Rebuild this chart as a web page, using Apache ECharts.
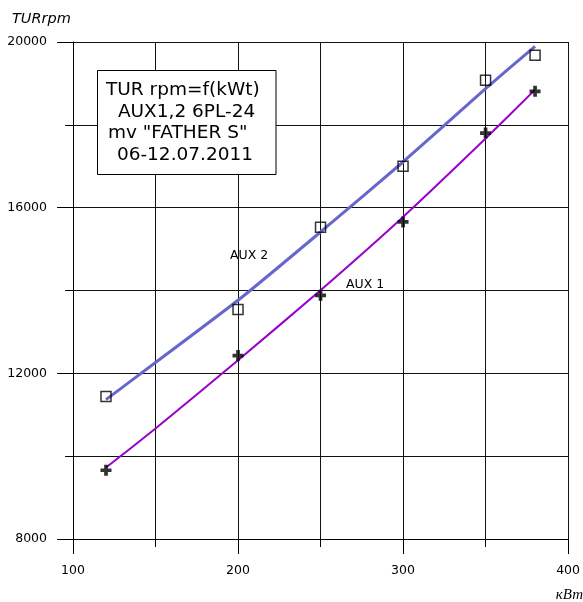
<!DOCTYPE html>
<html>
<head>
<meta charset="utf-8">
<script src="https://cdn.jsdelivr.net/npm/echarts@6/dist/echarts.min.js"></script>
<style>html,body{margin:0;padding:0;background:#fff;}#c{width:583px;height:602px;}</style>
</head>
<body>
<div id="c"></div>
<script>
// Measured points
var xValues = [120, 200, 250, 300, 350, 380];
var aux1Values = [9660, 12430, 13885, 15655, 17800, 18810];
var aux2Values = [11440, 13540, 15530, 17000, 19075, 19680];
// Trend lines
var fitX = [120, 150, 200, 250, 300, 350, 380];
var aux1Fit = [9725, 10666, 12315, 14005, 15775, 17668, 18851];
var aux2Fit = [11366, 12260, 13764, 15413, 17103, 18875, 19896];
// Axis tick labels
var xTickLabels = ['100', '200', '300', '400'];
var yTickLabels = ['8000', '12000', '16000', '20000'];
var boxLines = ['TUR rpm=f(kWt)', ' AUX1,2 6PL-24', 'mv "FATHER S"', ' 06-12.07.2011'];

function pairs(xs, ys) { return xs.map(function (x, i) { return [x, ys[i]]; }); }

var chart = echarts.init(document.getElementById('c'), null, { renderer: 'canvas' });
var F = 'DejaVu Sans';
var plus = 'path://M3.3,0H6.7V3.3H10V6.7H6.7V10H3.3V6.7H0V3.3H3.3Z';

var option = {
  backgroundColor: '#fff',
  animation: false,
  grid: { left: 73, right: 14, top: 42, bottom: 63, containLabel: false },
  xAxis: [
    {
      type: 'value', min: 100, max: 400, interval: 100, position: 'bottom',
      axisLine: { show: true, lineStyle: { color: '#000', width: 1 } },
      axisTick: { show: true, length: 15, lineStyle: { color: '#000' } },
      axisLabel: { margin: 25, fontFamily: F, fontSize: 12.5, color: '#000',
        formatter: function (v) { return xTickLabels.indexOf(String(v)) >= 0 ? String(v) : ''; } },
      splitLine: { show: false }
    },
    {
      type: 'value', min: 100, max: 400, interval: 50, position: 'bottom',
      axisLine: { show: false },
      axisTick: { show: true, length: 8, lineStyle: { color: '#000' } },
      axisLabel: { show: false },
      splitLine: { show: true, lineStyle: { color: '#111', width: 1 } }
    }
  ],
  yAxis: [
    {
      type: 'value', min: 8000, max: 20000, interval: 4000, position: 'left',
      axisLine: { show: true, lineStyle: { color: '#000', width: 1 } },
      axisTick: { show: true, length: 16, lineStyle: { color: '#000' } },
      axisLabel: { margin: 26, fontFamily: F, fontSize: 12.5, color: '#000',
        formatter: function (v) { return yTickLabels.indexOf(String(v)) >= 0 ? String(v) : ''; } },
      splitLine: { show: false }
    },
    {
      type: 'value', min: 8000, max: 20000, interval: 2000, position: 'left',
      axisLine: { show: false },
      axisTick: { show: true, length: 8, lineStyle: { color: '#000' } },
      axisLabel: { show: false },
      splitLine: { show: true, lineStyle: { color: '#111', width: 1 } }
    }
  ],
  series: [
    {
      name: 'AUX 2 fit', type: 'line', data: pairs(fitX, aux2Fit), smooth: 0.15,
      showSymbol: false, lineStyle: { color: '#6666CC', width: 3 }, z: 2
    },
    {
      name: 'AUX 1 fit', type: 'line', data: pairs(fitX, aux1Fit), smooth: 0.15,
      showSymbol: false, lineStyle: { color: '#9900CC', width: 2 }, z: 2
    },
    {
      name: 'AUX 2', type: 'scatter', data: pairs(xValues, aux2Values),
      symbol: 'rect', symbolSize: 10,
      itemStyle: { color: 'rgba(255,255,255,0)', borderColor: '#000', borderWidth: 1.5 }, z: 3
    },
    {
      name: 'AUX 1', type: 'scatter', data: pairs(xValues, aux1Values),
      symbol: plus, symbolSize: 11,
      itemStyle: { color: '#000' }, z: 3
    }
  ],
  graphic: [
    { type: 'text', left: 12, top: 12, style: { text: 'TURrpm', font: 'italic 14.5px "DejaVu Sans"', fill: '#000' } },
    { type: 'text', right: 0, top: 588, style: { text: 'кВт', font: 'italic 15px "Liberation Serif"', fill: '#000' } },
    { type: 'text', left: 230, top: 249, style: { text: 'AUX 2', font: '12.5px "DejaVu Sans"', fill: '#000' } },
    { type: 'text', left: 346, top: 278, style: { text: 'AUX 1', font: '12.5px "DejaVu Sans"', fill: '#000' } },
    { type: 'rect', shape: { x: 97.5, y: 70.5, width: 178.5, height: 104 },
      style: { fill: '#fff', stroke: '#000', lineWidth: 1 }, z: 100 },
    { type: 'text', x: 106, y: 90.5, z: 101, style: { text: boxLines[0], font: '18.5px "DejaVu Sans"', fill: '#000', textVerticalAlign: 'middle' } },
    { type: 'text', x: 112, y: 112, z: 101, style: { text: boxLines[1], font: '18.5px "DejaVu Sans"', fill: '#000', textVerticalAlign: 'middle' } },
    { type: 'text', x: 108, y: 133.5, z: 101, style: { text: boxLines[2], font: '18.5px "DejaVu Sans"', fill: '#000', textVerticalAlign: 'middle' } },
    { type: 'text', x: 111, y: 155, z: 101, style: { text: boxLines[3], font: '18.5px "DejaVu Sans"', fill: '#000', textVerticalAlign: 'middle' } }
  ]
};
chart.setOption(option);
</script>
</body>
</html>
